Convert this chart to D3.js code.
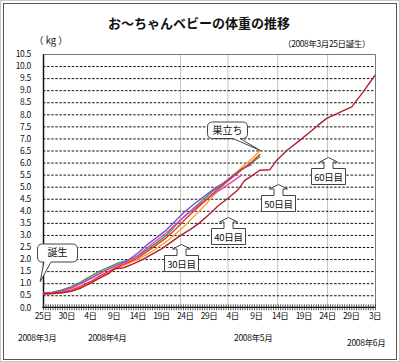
<!DOCTYPE html>
<html>
<head>
<meta charset="utf-8">
<script src="https://cdnjs.cloudflare.com/ajax/libs/d3/7.8.5/d3.min.js"></script>
<style>
  body { margin: 0; background: #fff; }
  text { font-family: "Noto Sans CJK JP", "Liberation Sans", sans-serif; fill: #111; }
</style>
</head>
<body>
<div id="chart-area"></div>
<script>
// days after 2008-03-25 (day 0 = birth)
const dayTicks = [0, 5, 10, 15, 20, 25, 30, 35, 40, 45, 50, 55, 60, 65, 70]
const dayLabels = ["25日", "30日", "4日", "9日", "14日", "19日", "24日", "29日",
                   "4日", "9日", "14日", "19日", "24日", "29日", "3日"]
const kgTicks = d3.range(0, 10.51, 0.5)

// chicks that left the nest around day 42-46
const bundleDays = [0, 2, 4, 6, 8, 10, 12, 14, 16, 18, 20, 22, 24, 26, 28, 30, 32, 34, 36, 38, 40, 42, 44, 45.8]
const greenKg   = [0.6, 0.63, 0.72, 0.86, 1.05, 1.28, 1.5, 1.68, 1.85, 1.95, 2.12, 2.4, 2.68, 2.98, 3.4, 3.8, 4.15, 4.5, 4.85, 5.1, 5.4, 5.72, 6.0, 6.25]
const purpleKg  = [0.6, 0.62, 0.68, 0.82, 1.0, 1.2, 1.42, 1.6, 1.78, 1.96, 2.25, 2.6, 2.9, 3.2, 3.6, 3.98, 4.3, 4.6, 4.9, 5.15, 5.45, 5.75, 5.92]
const magentaKg = [0.58, 0.6, 0.66, 0.8, 0.98, 1.18, 1.4, 1.6, 1.76, 1.92, 2.15, 2.48, 2.78, 3.08, 3.45, 3.8, 4.1, 4.4, 4.7, 4.95, 5.22, 5.5]
const orangeKg  = [0.55, 0.56, 0.6, 0.68, 0.82, 1.0, 1.22, 1.45, 1.66, 1.82, 1.98, 2.2, 2.45, 2.72, 3.05, 3.4, 3.8, 4.2, 4.65, 5.05, 5.45, 5.82, 6.15, 6.5]
const redKg     = [0.56, 0.58, 0.62, 0.72, 0.88, 1.06, 1.3, 1.5, 1.7, 1.86, 2.05, 2.32, 2.6, 2.88, 3.25, 3.65, 4.02, 4.38, 4.75, 5.08, 5.4, 5.72, 6.02, 6.35]

// the one that stayed
const darkDays = [0, 2, 4, 6, 8, 10, 12, 14, 15, 17, 19, 21, 23, 25, 27, 29, 31, 33, 35, 37, 39, 41,
                  42.5, 44, 45.7, 47.8, 49.3, 51.4, 54, 56.3, 58, 59.8, 61.2, 63, 65.1, 67.5, 70]
const darkKg   = [0.56, 0.57, 0.6, 0.66, 0.8, 1.0, 1.22, 1.42, 1.6, 1.64, 1.8, 1.98, 2.2, 2.42, 2.7, 2.98, 3.22, 3.5, 3.85, 4.22, 4.52, 4.85,
                  5.25, 5.45, 5.68, 5.7, 6.1, 6.5, 6.9, 7.27, 7.55, 7.83, 7.96, 8.12, 8.31, 8.93, 9.62]

// n日目 markers (day index) and arrow tip weights
const markerDays = [29, 39, 49.5, 60]
const markerLabels = ["30日目", "40日目", "50日目", "60日目"]
const markerTipKg = [2.62, 3.75, 5.1, 6.22]

const series = [
    { color: "#3f9a4a", days: bundleDays, kg: greenKg },
    { color: "#f0a43a", days: bundleDays, kg: orangeKg },
    { color: "#7a52cc", days: bundleDays, kg: purpleKg },
    { color: "#e044c4", days: bundleDays, kg: magentaKg },
    { color: "#e8362c", days: bundleDays, kg: redKg },
    { color: "#b11f2e", days: darkDays, kg: darkKg }
]

const W = 400, H = 362
const margin = { left: 43, right: 25, top: 54, bottom: 55 }

const svg = d3.select("#chart-area").append("svg")
    .attr("width", W)
    .attr("height", H)

// chart frame
svg.append("rect").attr("x", 0.5).attr("y", 0.5).attr("width", W - 1).attr("height", H - 1)
    .attr("fill", "#fff").attr("stroke", "#c8c8c8")
svg.append("rect").attr("x", 3.5).attr("y", 3.5).attr("width", 393).attr("height", 356)
    .attr("fill", "#fff").attr("stroke", "#555")

const x = d3.scaleLinear().domain([0, 70]).range([margin.left, W - margin.right])
const y = d3.scaleLinear().domain([0, 10.5]).range([307.3, margin.top])

// vertical marker lines
svg.selectAll(".vline").data(markerDays).enter()
    .append("line")
    .attr("x1", d => x(d)).attr("x2", d => x(d))
    .attr("y1", y(10.5)).attr("y2", y(0))
    .attr("stroke", "#c4c4c4")

// dashed gridlines
svg.selectAll(".hgrid").data(kgTicks.filter(d => d > 0 && d < 10.5)).enter()
    .append("line")
    .attr("x1", x(0)).attr("x2", x(70))
    .attr("y1", d => y(d) + 0.5).attr("y2", d => y(d) + 0.5)
    .attr("stroke", "#111")
    .attr("stroke-dasharray", "2.5,1.6")

// top + right border of plot
svg.append("path")
    .attr("d", `M${x(0)},${y(10.5) + 0.5}H${x(70) + 0.5}V${y(0)}`)
    .attr("fill", "none").attr("stroke", "#777")

// y axis
svg.append("g")
    .attr("transform", `translate(${x(0)},0)`)
    .call(d3.axisLeft(y).tickValues(kgTicks).tickSize(0).tickPadding(12)
        .tickFormat(d => d.toFixed(1)))
    .call(g => g.select(".domain").attr("stroke", "#111").attr("stroke-width", 1.5))
    .selectAll("text")
    .attr("font-size", "8.5px")
    .attr("letter-spacing", "-0.3px")

// x axis: dense crossing ticks
const minorDays = d3.range(0, 70.01, 0.5)
svg.append("g")
    .attr("transform", `translate(0,${y(0) - 3})`)
    .call(d3.axisBottom(x).tickValues(minorDays).tickSize(6).tickFormat(""))
    .call(g => g.select(".domain").remove())
    .selectAll("line").attr("stroke", "#333").attr("stroke-width", 0.8)

svg.append("line")
    .attr("x1", x(0) - 0.75).attr("x2", x(70))
    .attr("y1", y(0)).attr("y2", y(0))
    .attr("stroke", "#111").attr("stroke-width", 1.2)

svg.append("g").selectAll("text").data(dayTicks).enter()
    .append("text")
    .attr("x", d => x(d))
    .attr("y", 319)
    .attr("text-anchor", "middle")
    .attr("font-size", "8.5px")
    .attr("letter-spacing", "-0.5px")
    .text((d, i) => dayLabels[i])

// month labels
const months = [["2008年3月", 18, 341], ["2008年4月", 88, 341], ["2008年5月", 234, 341], ["2008年6月", 347, 346]]
svg.selectAll(".month").data(months).enter()
    .append("text")
    .attr("x", d => d[1]).attr("y", d => d[2])
    .attr("font-size", "8.5px")
    .attr("letter-spacing", "-0.3px")
    .text(d => d[0])

// data lines
const line = d3.line()
    .x(d => x(d[0]))
    .y(d => y(d[1]))

svg.selectAll(".series").data(series).enter()
    .append("path")
    .attr("fill", "none")
    .attr("stroke", d => d.color)
    .attr("stroke-width", 1.4)
    .attr("stroke-linejoin", "round")
    .attr("d", d => line(d.kg.map((v, i) => [d.days[i], v])))

// titles
svg.append("text")
    .attr("x", 199).attr("y", 28)
    .attr("text-anchor", "middle")
    .attr("font-size", "13px")
    .attr("font-weight", "bold")
    .text("お～ちゃんベビーの体重の推移")

svg.append("text")
    .attr("x", 34).attr("y", 44)
    .attr("font-size", "9.5px")
    .text("（ kg ）")

svg.append("text")
    .attr("x", 370).attr("y", 47)
    .attr("text-anchor", "end")
    .attr("font-size", "8.5px")
    .attr("letter-spacing", "-0.4px")
    .text("（2008年3月25日誕生）")

// speech bubbles
function bubble(x0, y0, w, h, r, t1, t2, tx, ty) {
    return `M${x0 + r},${y0}H${x0 + w - r}Q${x0 + w},${y0} ${x0 + w},${y0 + r}V${y0 + h - r}` +
        `Q${x0 + w},${y0 + h} ${x0 + w - r},${y0 + h}H${t2}L${tx},${ty}L${t1},${y0 + h}H${x0 + r}` +
        `Q${x0},${y0 + h} ${x0},${y0 + h - r}V${y0 + r}Q${x0},${y0} ${x0 + r},${y0}Z`
}

const bubbles = [
    { text: "誕生", x0: 37, y0: 243.5, w: 40, h: 18, t1: 44, t2: 51, tipDay: -0.6, tipKg: 1.06 },
    { text: "巣立ち", x0: 207, y0: 121.5, w: 40, h: 16.5, t1: 233, t2: 240, tipDay: 45.8, tipKg: 6.5 }
]
bubbles.forEach(b => {
    svg.append("path")
        .attr("d", bubble(b.x0 + 0.5, b.y0 + 0.5, b.w, b.h, 5, b.t1, b.t2, x(b.tipDay), y(b.tipKg)))
        .attr("fill", "#fff").attr("stroke", "#444")
    svg.append("text")
        .attr("x", b.x0 + b.w / 2 + 0.5).attr("y", b.y0 + b.h / 2 + 3.8)
        .attr("text-anchor", "middle")
        .attr("font-size", "10px")
        .text(b.text)
})

// up-arrow callouts
function arrowBox(cx, tipY) {
    const bt = tipY + 11, w = 34, h = 16
    return `M${cx - w / 2},${bt + h}V${bt}H${cx - 4.5}V${tipY + 4.5}H${cx - 9}L${cx},${tipY}` +
        `L${cx + 9},${tipY + 4.5}H${cx + 4.5}V${bt}H${cx + w / 2}V${bt + h}Z`
}
markerDays.forEach((d, i) => {
    const cx = Math.round(x(d)) + 0.5
    const tipY = Math.round(y(markerTipKg[i])) + 0.5
    svg.append("path")
        .attr("d", arrowBox(cx, tipY))
        .attr("fill", "#fff").attr("stroke", "#444")
    svg.append("text")
        .attr("x", cx).attr("y", tipY + 23)
        .attr("text-anchor", "middle")
        .attr("font-size", "9.5px")
        .attr("letter-spacing", "-0.3px")
        .text(markerLabels[i])
})
</script>
</body>
</html>
